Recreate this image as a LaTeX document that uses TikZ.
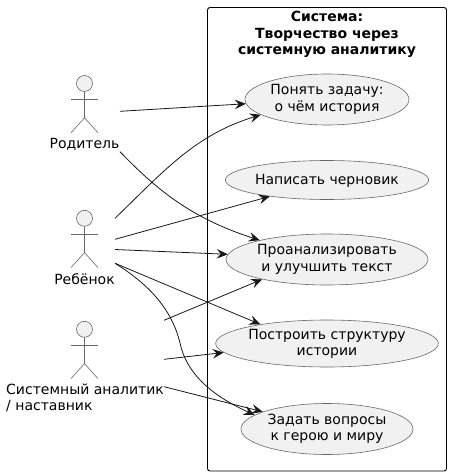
\documentclass[tikz,border=0pt]{standalone}
\usepackage{fontspec}
\setmainfont{DejaVu Sans}
\usetikzlibrary{shapes.geometric,arrows.meta}
\definecolor{ink}{HTML}{181818}
\definecolor{thin}{HTML}{686868}
\definecolor{shade}{HTML}{F1F1F1}
\tikzset{
  usecase/.style={ellipse,draw=thin,fill=shade,line width=0.6pt,inner sep=0pt,align=center,text=black,font=\fontsize{14}{16.3}\selectfont,execute at begin node={\rule{0pt}{12.8pt}}},
  actorline/.style={draw=thin,line width=0.6pt},
  actorlabel/.style={inner sep=0pt,align=center,text=black,font=\fontsize{14}{16.3}\selectfont},
  link/.style={draw=ink,line width=0.8pt,-{Stealth[length=11pt,width=9.5pt,inset=4pt]}},
  frame/.style={draw=black,line width=0.9pt,rounded corners=2.5pt},
}
\newcommand{\stickman}[3]{% name, x, head-centre y
  \node[circle,draw=thin,fill=shade,line width=0.6pt,minimum size=16pt,inner sep=0pt] (#1) at (#2,#3) {};
  \draw[actorline] (#1.south) -- ++(0,26) -- ++(-13.5,15) ++(13.5,-15) -- ++(13.5,15);
  \draw[actorline] (#2-13.5,#3+16) -- ++(27,0);
}
\begin{document}
\begin{tikzpicture}[x=1pt,y=-1pt]
\useasboundingbox (0,0) rectangle (451,476);
\draw[frame] (207.5,7.5) rectangle (446.5,471);
\node[inner sep=0pt,align=center,font=\fontsize{14}{16.3}\selectfont\bfseries] (title) at (327,34.5) {Система:\\Творчество через\\системную аналитику};

\node[usecase,minimum width=164pt,minimum height=51pt] (e1) at (327,99.5) {Понять задачу:\\о чём история};
\node[usecase,minimum width=172pt,minimum height=39pt] (e2) at (327,180) {Написать черновик};
\node[usecase,minimum width=202pt,minimum height=51pt] (e3) at (327,259.5) {Проанализировать\\и улучшить текст};
\node[usecase,minimum width=208pt,minimum height=47pt] (e4) at (327,343.5) {Построить структуру\\истории};
\node[usecase,minimum width=172pt,minimum height=51pt] (e5) at (327,429) {Задать вопросы\\к герою и миру};

\stickman{parent}{84.5}{83.5}
\stickman{child}{84.5}{218.3}
\stickman{analyst}{84.5}{329.3}
\node[actorlabel] (parentlabel) at (84.5,144) {Родитель};
\node[actorlabel] (childlabel) at (84.5,279) {Ребёнок};
\node[actorlabel,align=left,anchor=west] (analystlabel) at (6,398) {Системный аналитик\\/ наставник};

\coordinate (p1) at (120,111.3);
\coordinate (p2) at (120,151.7);
\coordinate (c1) at (115,218.3);
\coordinate (c2) at (115,239.3);
\coordinate (c3) at (115,249.5);
\coordinate (c4) at (115,263.3);
\coordinate (a1) at (164,320.3);
\coordinate (a2) at (164,359.3);
\coordinate (a3) at (164,386.7);

\draw[link] (p1) -- (e1.183.6);
\draw[link] (p2) .. controls (155,188) and (190,218) .. (e3.164.8);
\draw[link] (c1) .. controls (165,170) and (195,135) .. (e1.193.6);
\draw[link] (c2) -- (e2.196.5);
\draw[link] (c3) -- (e3.177.4);
\draw[link] (c4) -- (e4.164.8);
\draw[link] (c4) .. controls (150,285) and (172,310) .. (180,343) .. controls (186,372) and (210,395) .. (e5.169);
\draw[link] (a1) -- (e3.197);
\draw[link] (a2) -- (e4.185.9);
\draw[link] (a3) -- (e5.165.7);
\end{tikzpicture}
\end{document}
